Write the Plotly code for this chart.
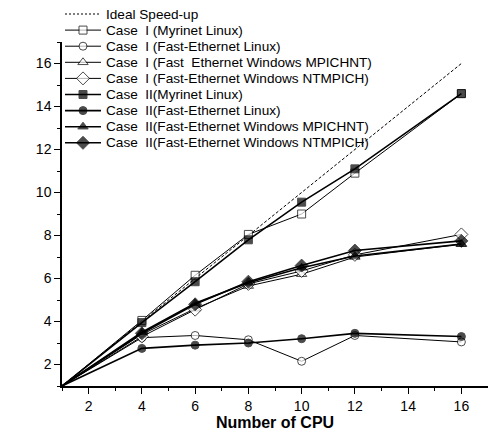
import plotly.graph_objects as go

cpus = [1, 4, 6, 8, 10, 12, 16]
ideal_x = [1, 16]
ideal_y = [1, 16]

names = [
    "Case  I (Myrinet Linux)",
    "Case  I (Fast-Ethernet Linux)",
    "Case  I (Fast  Ethernet Windows MPICHNT)",
    "Case  I (Fast-Ethernet Windows NTMPICH)",
    "Case  II(Myrinet Linux)",
    "Case  II(Fast-Ethernet Linux)",
    "Case  II(Fast-Ethernet Windows MPICHNT)",
    "Case  II(Fast-Ethernet Windows NTMPICH)",
]

c1_myri_linux = [1, 4.05, 6.15, 8.05, 9.0, 10.9, 14.6]
c1_fe_linux = [1, 3.25, 3.35, 3.15, 2.15, 3.35, 3.05]
c1_fe_win_mpichnt = [1, 3.4, 4.6, 5.65, 6.2, 7.0, 7.6]
c1_fe_win_ntmpich = [1, 3.3, 4.55, 5.75, 6.35, 7.1, 8.05]
c2_myri_linux = [1, 3.95, 5.85, 7.8, 9.55, 11.1, 14.6]
c2_fe_linux = [1, 2.75, 2.9, 3.0, 3.2, 3.45, 3.3]
c2_fe_win_mpichnt = [1, 3.5, 4.85, 5.8, 6.5, 7.05, 7.6]
c2_fe_win_ntmpich = [1, 3.45, 4.8, 5.85, 6.6, 7.3, 7.75]

series = [c1_myri_linux, c1_fe_linux, c1_fe_win_mpichnt, c1_fe_win_ntmpich,
          c2_myri_linux, c2_fe_linux, c2_fe_win_mpichnt, c2_fe_win_ntmpich]
symbols = ["square", "circle", "triangle-up", "diamond",
           "square", "circle", "triangle-up", "diamond"]
msizes = {"square": 8, "circle": 8, "triangle-up": 9, "diamond": 10}
filled = [False] * 4 + [True] * 4

FONT = "Liberation Sans, Arial, Helvetica"
W, H = 488, 434
ML, MB, MT_PLOT = 62, 48, 42          # left margin, bottom margin, top of main plot
AREA_H = H - MB                       # overlay area height (top margin 0)

fig = go.Figure()

# main data
fig.add_trace(go.Scatter(x=ideal_x, y=ideal_y, mode="lines", showlegend=False,
                         line=dict(color="black", width=1, dash="3px,2px")))
for nm, ys, sym, f in zip(names, series, symbols, filled):
    sizes = [0] + [msizes[sym]] * (len(cpus) - 1)
    fig.add_trace(go.Scatter(
        x=cpus, y=ys, mode="lines+markers", name=nm, showlegend=False,
        line=dict(color="black", width=1.6 if f else 1),
        marker=dict(symbol=sym, size=sizes, color="black" if f else "white",
                    line=dict(color="black", width=1)),
    ))

# custom compact legend drawn on an invisible pixel-scaled overlay subplot
leg_x0, leg_x1, leg_xm, leg_tx = 65, 101, 83, 104
leg_y0, leg_dy = 14, 16.1
labels = ["Ideal Speed-up"] + names
annotations = []
for i, lab in enumerate(labels):
    yy = leg_y0 + i * leg_dy
    if i == 0:
        fig.add_trace(go.Scatter(x=[leg_x0, leg_x1], y=[yy, yy], mode="lines",
                                 xaxis="x2", yaxis="y2", showlegend=False,
                                 line=dict(color="black", width=1, dash="2px,2px")))
    else:
        sym = symbols[i - 1]
        f = filled[i - 1]
        fig.add_trace(go.Scatter(
            x=[leg_x0, leg_xm, leg_x1], y=[yy, yy, yy], mode="lines+markers",
            xaxis="x2", yaxis="y2", showlegend=False,
            line=dict(color="black", width=1.6 if f else 1),
            marker=dict(symbol=sym, size=[0, msizes[sym], 0],
                        color="black" if f else "white",
                        line=dict(color="black", width=1))))
    annotations.append(dict(x=leg_tx, y=yy, xref="x2", yref="y2", text=lab,
                            showarrow=False, xanchor="left", yanchor="middle",
                            font=dict(family=FONT, size=13.6, color="black")))

annotations.append(dict(x=22, y=230, xref="x2", yref="y2", text="Speed-Up Ratio",
                        textangle=-90, showarrow=False, xanchor="center",
                        yanchor="middle",
                        font=dict(family=FONT, size=14.5, color="black")))

axis_common = dict(
    showline=True, linecolor="black", linewidth=1.5, mirror=False,
    showgrid=False, zeroline=False, ticks="outside", ticklen=6, tickwidth=1.2,
    tickcolor="black",
    tickfont=dict(family=FONT, size=14, color="black"),
)

fig.update_layout(
    width=W, height=H,
    margin=dict(l=ML, r=0, t=0, b=MB),
    paper_bgcolor="white", plot_bgcolor="rgba(0,0,0,0)",
    font=dict(family=FONT, color="black", size=12),
    showlegend=False,
    annotations=annotations,
    xaxis=dict(range=[1, 17], tick0=2, dtick=2, anchor="y",
               minor=dict(dtick=1, ticks="outside", ticklen=3, tickcolor="black"),
               title=dict(text="<b>Number of CPU</b>", font=dict(size=16), standoff=4),
               **axis_common),
    yaxis=dict(range=[1, 17], tick0=0, dtick=2, anchor="x",
               domain=[0, (AREA_H - MT_PLOT) / AREA_H],
               minor=dict(dtick=1, ticks="outside", ticklen=3, tickcolor="black"),
               **axis_common),
    xaxis2=dict(domain=[0, 1], range=[ML, W], anchor="y2", visible=False,
                fixedrange=True),
    yaxis2=dict(domain=[0, 1], range=[AREA_H, 0], anchor="x2", visible=False,
                fixedrange=True),
)

fig.write_html("out.html")
